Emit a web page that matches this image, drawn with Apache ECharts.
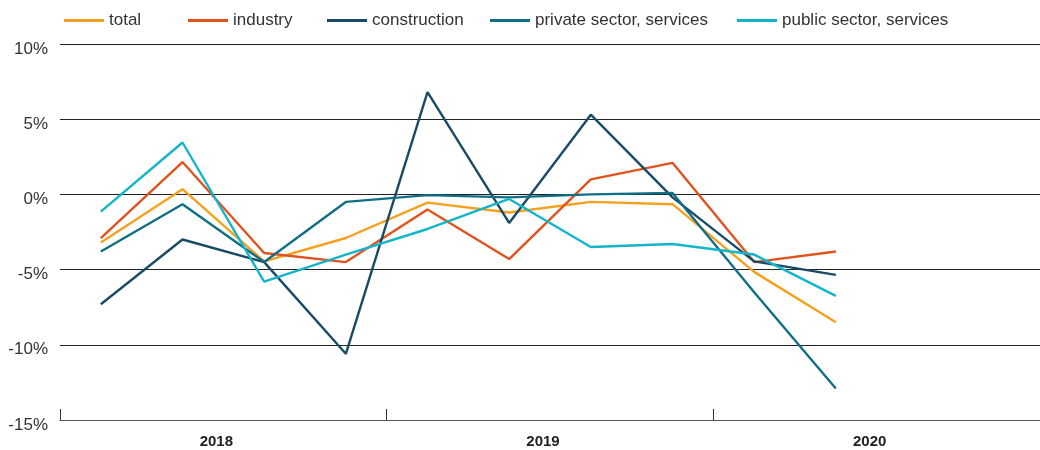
<!DOCTYPE html>
<html>
<head>
<meta charset="utf-8">
<script src="https://cdn.jsdelivr.net/npm/echarts@6/dist/echarts.min.js"></script>
<style>
  html, body { margin: 0; padding: 0; background: #fff; }
  #chart { width: 1040px; height: 450px; }
</style>
</head>
<body>
<div id="chart"></div>
<script>
// Quarterly change, 2018 Q1 – 2020 Q2 (percent)
const quarters = [
  '2018 Q1', '2018 Q2', '2018 Q3', '2018 Q4',
  '2019 Q1', '2019 Q2', '2019 Q3', '2019 Q4',
  '2020 Q1', '2020 Q2', '2020 Q3', '2020 Q4'
];
const years = ['2018', '2019', '2020'];

const total        = [-3.2, 0.35, -4.45, -2.9, -0.55, -1.2, -0.5, -0.65, -5.15, -8.5];
const industry     = [-2.9, 2.15, -3.9, -4.5, -1.0, -4.3, 1.0, 2.1, -4.5, -3.8];
const construction = [-7.3, -3.0, -4.5, -10.6, 6.8, -1.9, 5.3, -0.2, -4.45, -5.35];
const privateServ  = [-3.8, -0.65, -4.5, -0.5, -0.05, -0.2, 0.0, 0.1, -6.5, -12.9];
const publicServ   = [-1.15, 3.45, -5.8, -4.0, -2.3, -0.3, -3.5, -3.3, -4.0, -6.75];

const seriesDefs = [
  { name: 'total',                     data: total,        color: '#F5A01E', left: 59 },
  { name: 'industry',                  data: industry,     color: '#E0521E', left: 183 },
  { name: 'construction',              data: construction, color: '#1A4B66', left: 322 },
  { name: 'private sector, services',  data: privateServ,  color: '#116F85', left: 485 },
  { name: 'public sector, services',   data: publicServ,   color: '#14B5CB', left: 732 }
];

const font = '"Liberation Sans", Arial, Helvetica, sans-serif';

const chart = echarts.init(document.getElementById('chart'), null, { renderer: 'canvas' });

chart.setOption({
  animation: false,
  backgroundColor: '#ffffff',
  color: seriesDefs.map(s => s.color),
  legend: seriesDefs.map(s => ({
    data: [s.name],
    left: s.left,
    top: 7,
    icon: 'rect',
    itemWidth: 40,
    itemHeight: 3,
    itemGap: 0,
    textStyle: { fontFamily: font, fontSize: 17, color: '#333' },
    selectedMode: false
  })),
  grid: { left: 60, right: 0, top: 44, bottom: 30, containLabel: false },
  xAxis: [
    {
      type: 'category',
      data: quarters,
      boundaryGap: true,
      show: false
    },
    {
      type: 'category',
      data: years,
      position: 'bottom',
      boundaryGap: true,
      axisLine: { show: true, lineStyle: { color: '#555', width: 1 } },
      axisTick: { show: true, inside: true, length: 11, lineStyle: { color: '#333', width: 1 } },
      axisLabel: {
        fontFamily: font, fontSize: 15, fontWeight: 'bold', color: '#222',
        margin: 14, padding: [0, 14, 0, 0]
      },
      splitLine: { show: false }
    }
  ],
  yAxis: {
    type: 'value',
    min: -15,
    max: 10,
    interval: 5,
    axisLine: { show: false },
    axisTick: { show: false },
    axisLabel: {
      margin: 12,
      formatter: v => '{t|' + v + '%}',
      rich: {
        t: { fontFamily: font, fontSize: 17, color: '#333', padding: [10, 0, 0, 0] }
      }
    },
    splitLine: { show: true, lineStyle: { color: '#222', width: 1 } }
  },
  series: seriesDefs.map(s => ({
    name: s.name,
    type: 'line',
    xAxisIndex: 0,
    data: s.data,
    showSymbol: false,
    symbol: 'none',
    lineStyle: { color: s.color, width: 2.4 },
    itemStyle: { color: s.color }
  }))
});
</script>
</body>
</html>
